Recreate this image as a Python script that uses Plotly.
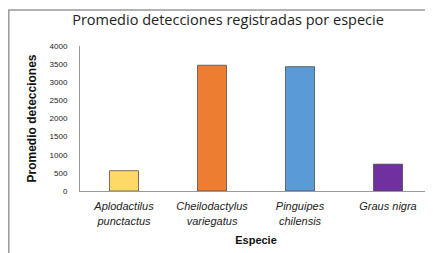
import plotly.graph_objects as go

species = ["Aplodactilus<br>punctactus", "Cheilodactylus<br>variegatus", "Pinguipes<br>chilensis", "Graus nigra"]
promedio = [560, 3470, 3430, 740]
colores = ["#FFD966", "#ED7D31", "#5B9BD5", "#7030A0"]
y_ticks = [0, 500, 1000, 1500, 2000, 2500, 3000, 3500, 4000]

narrow = "Liberation Sans Narrow, Arial Narrow, Liberation Sans, Arial, sans-serif"

# page body adds an 8px margin, so the figure is drawn 8px smaller and offset
W, H = 425, 245
L, R, T, B = 72, 1, 38, 62
PW, PH = W - L - R, H - T - B

fig = go.Figure(go.Bar(
    x=species, y=promedio,
    marker=dict(color=colores, line=dict(color="rgba(70,70,70,0.75)", width=1)),
    width=0.33,
))

fig.update_layout(
    width=W, height=H,
    margin=dict(l=L, r=R, t=T, b=B, autoexpand=False),
    paper_bgcolor="white", plot_bgcolor="white",
    showlegend=False,
    title=dict(text="Promedio detecciones registradas por especie",
               font=dict(family="Open Sans, Liberation Sans, sans-serif", size=14.5, color="#222"),
               x=220 / W, xanchor="center", y=1 - 12 / H, yanchor="middle"),
    font=dict(family=narrow, color="#222"),
)

fig.update_xaxes(
    automargin=False,
    showline=True, linecolor="#999", linewidth=1,
    tickfont=dict(family=narrow, size=11, style="italic", color="#222"),
    ticklabelstandoff=5,
    title=dict(text="<b>Especie</b>", font=dict(family=narrow, size=11, color="#111"), standoff=10),
    showgrid=False, ticks="",
)
fig.update_yaxes(
    automargin=False,
    range=[0, 4000], tickvals=y_ticks,
    showline=True, linecolor="#999", linewidth=1,
    tickfont=dict(family=narrow, size=8, color="#222"),
    ticklabelstandoff=10,
    title=dict(text="<b>Promedio detecciones</b>", font=dict(family=narrow, size=12, color="#111"), standoff=10),
    showgrid=False, ticks="", zeroline=False,
)

# outer chart frame (top and left edges visible)
fig.add_shape(type="rect", xref="paper", yref="paper",
              x0=(0.8 - L) / PW, x1=1.1, y0=-0.6, y1=1 + (T - 2) / PH,
              line=dict(color="#999", width=1.5), fillcolor="rgba(0,0,0,0)", layer="below")

fig.write_html("out.html")
